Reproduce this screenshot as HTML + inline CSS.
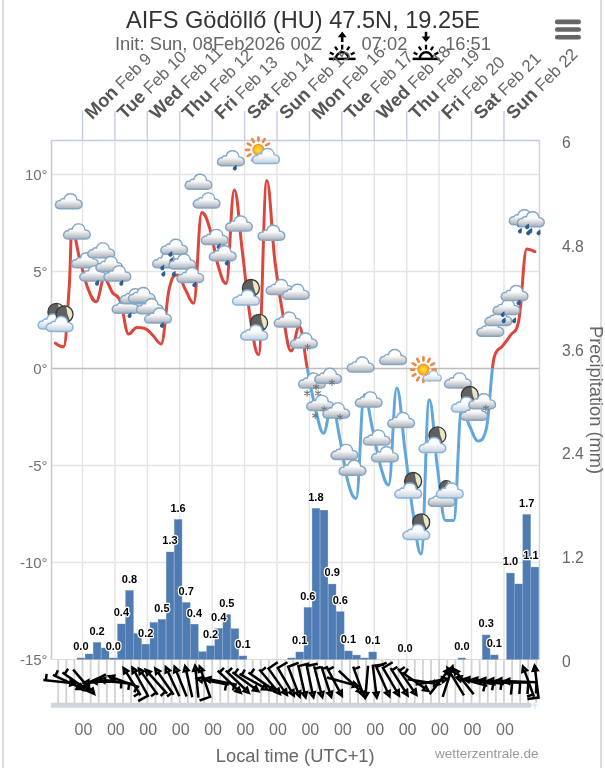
<!DOCTYPE html>
<html lang="en"><head><meta charset="utf-8"><title>AIFS Gödöllő (HU) 47.5N, 19.25E</title>
<style>html,body{margin:0;padding:0;background:#fff;}body{width:605px;height:768px;overflow:hidden;position:relative;font-family:"Liberation Sans", Arial, Helvetica, sans-serif;}#frame{position:absolute;left:2px;top:0;width:600px;height:768px;border-left:2px solid #dcdcdc;border-right:2px solid #dcdcdc;box-sizing:border-box;}svg{position:absolute;left:0;top:0;display:block;}text{font-family:"Liberation Sans", Arial, Helvetica, sans-serif;}</style></head><body>
<div id="frame"></div>
<svg width="605" height="768" viewBox="0 0 605 768">
<defs>
<linearGradient id="cg" x1="0" y1="0" x2="0" y2="1"><stop offset="0" stop-color="#ffffff"/><stop offset="0.45" stop-color="#f9fafb"/><stop offset="1" stop-color="#a9adb4"/></linearGradient>
<linearGradient id="cgb" x1="0" y1="0" x2="0" y2="1"><stop offset="0" stop-color="#ffffff"/><stop offset="0.45" stop-color="#fafcfe"/><stop offset="1" stop-color="#c2cfdc"/></linearGradient>
<radialGradient id="sg" cx="0.5" cy="0.5" r="0.5"><stop offset="0" stop-color="#ffe83a"/><stop offset="0.55" stop-color="#fcc02a"/><stop offset="1" stop-color="#f0901e"/></radialGradient>
<path id="cl" d="M-9.3 7.2 C-12.6 7.2 -13.6 4.2 -13.2 2.6 C-12.8 0.2 -10.6 -1.2 -8.6 -0.8 C-8 -2.6 -6 -3.4 -4.6 -2.6 C-3.8 -6.2 -0.8 -7.9 2.2 -7.8 C5.7 -7.7 8 -4.9 8.2 -1.7 C11.4 -1.8 13.4 0.4 13.4 2.8 C13.4 5.4 11.6 7.2 9.2 7.2 Z" fill="url(#cg)" stroke="#82a6c6" stroke-width="1.45" stroke-linejoin="round"/>
<path id="clb" d="M-9.3 7.2 C-12.6 7.2 -13.6 4.2 -13.2 2.6 C-12.8 0.2 -10.6 -1.2 -8.6 -0.8 C-8 -2.6 -6 -3.4 -4.6 -2.6 C-3.8 -6.2 -0.8 -7.9 2.2 -7.8 C5.7 -7.7 8 -4.9 8.2 -1.7 C11.4 -1.8 13.4 0.4 13.4 2.8 C13.4 5.4 11.6 7.2 9.2 7.2 Z" fill="url(#cgb)" stroke="#88b2d8" stroke-width="1.5" stroke-linejoin="round"/>
<path id="drop" d="M0 -2.9 C1.4 -0.7 2 0.3 2 1.2 A2 2 0 0 1 -2 1.2 C-2 0.3 -1.4 -0.7 0 -2.9 Z" fill="#2d5c94" transform="rotate(25)"/>
<g id="flake" stroke="#767676" stroke-width="1.1" stroke-linecap="round"><path d="M0 -2.9V2.9M-2.5 -1.45L2.5 1.45M2.5 -1.45L-2.5 1.45"/></g>
<g id="moon"><circle r="8.5" fill="#606062"/><path d="M1.6 -8.35 A8.5 8.5 0 0 1 5.4 6.56 Q2.2 0 1.6 -8.35 Z" fill="#ebe6c4"/><circle r="8.5" fill="none" stroke="#39393a" stroke-width="1.3"/></g>
<g id="sun"><path d="M9.20 0.00L12.30 0.00M7.97 4.60L10.65 6.15M4.60 7.97L6.15 10.65M0.00 9.20L0.00 12.30M-4.60 7.97L-6.15 10.65M-7.97 4.60L-10.65 6.15M-9.20 0.00L-12.30 0.00M-7.97 -4.60L-10.65 -6.15M-4.60 -7.97L-6.15 -10.65M-0.00 -9.20L-0.00 -12.30M4.60 -7.97L6.15 -10.65M7.97 -4.60L10.65 -6.15" stroke="#e98a4e" stroke-width="2.7" stroke-linecap="round" fill="none"/><circle r="6.1" fill="url(#sg)"/></g>
<clipPath id="above"><rect x="0" y="0" width="605" height="368.5"/></clipPath>
<clipPath id="below"><rect x="0" y="368.5" width="605" height="400"/></clipPath>
<clipPath id="plot"><rect x="51.5" y="140.5" width="496.0" height="519.0"/></clipPath>
</defs>
<text x="303" y="27.5" text-anchor="middle" font-size="23.6" fill="#333">AIFS Gödöllő (HU) 47.5N, 19.25E</text>
<text x="115" y="49.5" font-size="18.35" fill="#666">Init: Sun, 08Feb2026 00Z</text>
<text x="361.6" y="49.5" font-size="18.3" fill="#666">07:02</text>
<text x="445.2" y="49.5" font-size="18.3" fill="#666">16:51</text>
<g transform="translate(342.2,0)" stroke="#000" fill="none" stroke-linecap="butt"><path d="M-13.4 58.9H13.4" stroke-width="2.5"/><path d="M-6.2 58.5A6.2 6.2 0 0 1 6.2 58.5" stroke-width="2.4"/><path d="M-12.4 52.4L-8.6 54.6M12.4 52.4L8.6 54.6M-7.2 46.6L-4.8 50.2M7.2 46.6L4.8 50.2M0 44.8V49.4" stroke-width="2.3"/><path d="M0 42V36" stroke-width="2.6"/><path d="M-4.4 37.2L0 31.6L4.4 37.2Z" fill="#000" stroke="none"/></g>
<g transform="translate(426.0,0)" stroke="#000" fill="none" stroke-linecap="butt"><path d="M-13.4 58.9H13.4" stroke-width="2.5"/><path d="M-6.2 58.5A6.2 6.2 0 0 1 6.2 58.5" stroke-width="2.4"/><path d="M-12.4 52.4L-8.6 54.6M12.4 52.4L8.6 54.6M-7.2 46.6L-4.8 50.2M7.2 46.6L4.8 50.2M0 44.8V49.4" stroke-width="2.3"/><path d="M0 31.8V37.4" stroke-width="2.6"/><path d="M-4.4 36.4L0 42L4.4 36.4Z" fill="#000" stroke="none"/></g>
<g stroke="#666" stroke-width="4.6" stroke-linecap="round"><path d="M557.2 21.9H578.7M557.2 29.55H578.7M557.2 37.2H578.7"/></g>
<text transform="translate(92.3,120.2) rotate(-45)" font-size="16.8" fill="#666"><tspan font-weight="bold" font-size="18.4" fill="#555">Mon</tspan> Feb 9</text>
<text transform="translate(124.7,120.2) rotate(-45)" font-size="16.8" fill="#666"><tspan font-weight="bold" font-size="18.4" fill="#555">Tue</tspan> Feb 10</text>
<text transform="translate(157.1,120.2) rotate(-45)" font-size="16.8" fill="#666"><tspan font-weight="bold" font-size="18.4" fill="#555">Wed</tspan> Feb 11</text>
<text transform="translate(189.6,120.2) rotate(-45)" font-size="16.8" fill="#666"><tspan font-weight="bold" font-size="18.4" fill="#555">Thu</tspan> Feb 12</text>
<text transform="translate(222.0,120.2) rotate(-45)" font-size="16.8" fill="#666"><tspan font-weight="bold" font-size="18.4" fill="#555">Fri</tspan> Feb 13</text>
<text transform="translate(254.4,120.2) rotate(-45)" font-size="16.8" fill="#666"><tspan font-weight="bold" font-size="18.4" fill="#555">Sat</tspan> Feb 14</text>
<text transform="translate(286.8,120.2) rotate(-45)" font-size="16.8" fill="#666"><tspan font-weight="bold" font-size="18.4" fill="#555">Sun</tspan> Feb 15</text>
<text transform="translate(319.2,120.2) rotate(-45)" font-size="16.8" fill="#666"><tspan font-weight="bold" font-size="18.4" fill="#555">Mon</tspan> Feb 16</text>
<text transform="translate(351.7,120.2) rotate(-45)" font-size="16.8" fill="#666"><tspan font-weight="bold" font-size="18.4" fill="#555">Tue</tspan> Feb 17</text>
<text transform="translate(384.1,120.2) rotate(-45)" font-size="16.8" fill="#666"><tspan font-weight="bold" font-size="18.4" fill="#555">Wed</tspan> Feb 18</text>
<text transform="translate(416.5,120.2) rotate(-45)" font-size="16.8" fill="#666"><tspan font-weight="bold" font-size="18.4" fill="#555">Thu</tspan> Feb 19</text>
<text transform="translate(448.9,120.2) rotate(-45)" font-size="16.8" fill="#666"><tspan font-weight="bold" font-size="18.4" fill="#555">Fri</tspan> Feb 20</text>
<text transform="translate(481.3,120.2) rotate(-45)" font-size="16.8" fill="#666"><tspan font-weight="bold" font-size="18.4" fill="#555">Sat</tspan> Feb 21</text>
<text transform="translate(513.8,120.2) rotate(-45)" font-size="16.8" fill="#666"><tspan font-weight="bold" font-size="18.4" fill="#555">Sun</tspan> Feb 22</text>
<path d="M82.50 140.5V659.5" stroke="#e4e4e4" stroke-width="1.4"/>
<path d="M82.50 111V140.5" stroke="#c6cbe6" stroke-width="1.4"/>
<path d="M114.92 140.5V659.5" stroke="#e4e4e4" stroke-width="1.4"/>
<path d="M114.92 111V140.5" stroke="#c6cbe6" stroke-width="1.4"/>
<path d="M147.34 140.5V659.5" stroke="#e4e4e4" stroke-width="1.4"/>
<path d="M147.34 111V140.5" stroke="#c6cbe6" stroke-width="1.4"/>
<path d="M179.76 140.5V659.5" stroke="#e4e4e4" stroke-width="1.4"/>
<path d="M179.76 111V140.5" stroke="#c6cbe6" stroke-width="1.4"/>
<path d="M212.18 140.5V659.5" stroke="#e4e4e4" stroke-width="1.4"/>
<path d="M212.18 111V140.5" stroke="#c6cbe6" stroke-width="1.4"/>
<path d="M244.60 140.5V659.5" stroke="#e4e4e4" stroke-width="1.4"/>
<path d="M244.60 111V140.5" stroke="#c6cbe6" stroke-width="1.4"/>
<path d="M277.02 140.5V659.5" stroke="#e4e4e4" stroke-width="1.4"/>
<path d="M277.02 111V140.5" stroke="#c6cbe6" stroke-width="1.4"/>
<path d="M309.44 140.5V659.5" stroke="#e4e4e4" stroke-width="1.4"/>
<path d="M309.44 111V140.5" stroke="#c6cbe6" stroke-width="1.4"/>
<path d="M341.86 140.5V659.5" stroke="#e4e4e4" stroke-width="1.4"/>
<path d="M341.86 111V140.5" stroke="#c6cbe6" stroke-width="1.4"/>
<path d="M374.28 140.5V659.5" stroke="#e4e4e4" stroke-width="1.4"/>
<path d="M374.28 111V140.5" stroke="#c6cbe6" stroke-width="1.4"/>
<path d="M406.70 140.5V659.5" stroke="#e4e4e4" stroke-width="1.4"/>
<path d="M406.70 111V140.5" stroke="#c6cbe6" stroke-width="1.4"/>
<path d="M439.12 140.5V659.5" stroke="#e4e4e4" stroke-width="1.4"/>
<path d="M439.12 111V140.5" stroke="#c6cbe6" stroke-width="1.4"/>
<path d="M471.54 140.5V659.5" stroke="#e4e4e4" stroke-width="1.4"/>
<path d="M471.54 111V140.5" stroke="#c6cbe6" stroke-width="1.4"/>
<path d="M503.96 140.5V659.5" stroke="#e4e4e4" stroke-width="1.4"/>
<path d="M503.96 111V140.5" stroke="#c6cbe6" stroke-width="1.4"/>
<path d="M51.5 174.50H539.5" stroke="#e4e4e4" stroke-width="1.4"/>
<path d="M51.5 271.50H539.5" stroke="#e4e4e4" stroke-width="1.4"/>
<path d="M51.5 465.50H539.5" stroke="#e4e4e4" stroke-width="1.4"/>
<path d="M51.5 562.50H539.5" stroke="#e4e4e4" stroke-width="1.4"/>
<path d="M51.5 368.50H539.5" stroke="#bdbdbd" stroke-width="1.4"/>
<path d="M51.5 140.5H539.5" stroke="#c6cbe6" stroke-width="1.4"/>
<path d="M51.5 140.0V659.5" stroke="#cccccc" stroke-width="1.6"/>
<path d="M539.5 140.0V659.5" stroke="#d4d4d4" stroke-width="1.4"/>
<path d="M51.5 659.5H539.5" stroke="#d8d8d8" stroke-width="1"/>
<text x="47.6" y="180.3" text-anchor="end" font-size="15" fill="#707070">10°</text>
<text x="47.6" y="277.3" text-anchor="end" font-size="15" fill="#707070">5°</text>
<text x="47.6" y="374.3" text-anchor="end" font-size="15" fill="#707070">0°</text>
<text x="47.6" y="471.3" text-anchor="end" font-size="15" fill="#707070">-5°</text>
<text x="47.6" y="568.3" text-anchor="end" font-size="15" fill="#707070">-10°</text>
<text x="47.6" y="665.3" text-anchor="end" font-size="15" fill="#707070">-15°</text>
<text x="562" y="667.0" font-size="15.7" fill="#666">0</text>
<text x="562" y="563.2" font-size="15.7" fill="#666">1.2</text>
<text x="562" y="459.4" font-size="15.7" fill="#666">2.4</text>
<text x="562" y="355.6" font-size="15.7" fill="#666">3.6</text>
<text x="562" y="251.8" font-size="15.7" fill="#666">4.8</text>
<text x="562" y="148.0" font-size="15.7" fill="#666">6</text>
<text transform="translate(589.5,400) rotate(90)" text-anchor="middle" font-size="18.25" fill="#666">Precipitation (mm)</text>
<g fill="#4f7bb3" stroke="#6288bd" stroke-width="0.4"><rect x="77.07" y="658.00" width="7.61" height="1.20"/><rect x="85.17" y="654.00" width="7.61" height="5.20"/><rect x="93.28" y="642.50" width="7.61" height="16.70"/><rect x="101.39" y="648.00" width="7.61" height="11.20"/><rect x="109.49" y="658.00" width="7.61" height="1.20"/><rect x="117.60" y="624.00" width="7.61" height="35.20"/><rect x="125.70" y="590.50" width="7.61" height="68.70"/><rect x="133.81" y="633.50" width="7.61" height="25.70"/><rect x="141.92" y="644.20" width="7.61" height="15.00"/><rect x="150.02" y="622.50" width="7.61" height="36.70"/><rect x="158.13" y="619.50" width="7.61" height="39.70"/><rect x="166.23" y="552.00" width="7.61" height="107.20"/><rect x="174.34" y="519.50" width="7.61" height="139.70"/><rect x="182.45" y="602.50" width="7.61" height="56.70"/><rect x="190.55" y="624.20" width="7.61" height="35.00"/><rect x="198.66" y="651.80" width="7.61" height="7.40"/><rect x="206.76" y="645.90" width="7.61" height="13.30"/><rect x="214.87" y="628.50" width="7.61" height="30.70"/><rect x="222.98" y="614.60" width="7.61" height="44.60"/><rect x="231.08" y="628.80" width="7.61" height="30.40"/><rect x="239.19" y="656.00" width="7.61" height="3.20"/><rect x="287.82" y="658.00" width="7.61" height="1.20"/><rect x="295.93" y="652.00" width="7.61" height="7.20"/><rect x="304.04" y="607.50" width="7.61" height="51.70"/><rect x="312.14" y="508.50" width="7.61" height="150.70"/><rect x="320.25" y="510.20" width="7.61" height="149.00"/><rect x="328.35" y="584.10" width="7.61" height="75.10"/><rect x="336.46" y="611.80" width="7.61" height="47.40"/><rect x="344.57" y="651.00" width="7.61" height="8.20"/><rect x="352.67" y="655.10" width="7.61" height="4.10"/><rect x="360.78" y="658.00" width="7.61" height="1.20"/><rect x="368.88" y="652.00" width="7.61" height="7.20"/><rect x="458.05" y="658.00" width="7.61" height="1.20"/><rect x="482.37" y="635.00" width="7.61" height="24.20"/><rect x="490.47" y="655.00" width="7.61" height="4.20"/><rect x="506.69" y="573.10" width="7.61" height="86.10"/><rect x="514.79" y="584.00" width="7.61" height="75.20"/><rect x="522.90" y="514.50" width="7.61" height="144.70"/><rect x="531.00" y="567.10" width="7.61" height="92.10"/></g>
<path d="M 55.50 343.20 C 55.50 343.20 60.38 346.80 63.62 346.80 C 65.94 346.80 67.09 317.35 69.40 284.00 C 70.34 270.43 70.81 229.50 71.75 229.50 C 75.00 229.50 76.62 247.88 79.88 259.70 C 83.12 271.52 84.75 280.20 88.00 288.60 C 91.25 297.00 92.88 301.70 96.12 301.70 C 99.38 301.70 101.00 278.70 104.25 278.70 C 107.50 278.70 109.12 287.70 112.38 292.30 C 115.62 296.90 117.25 293.36 120.50 301.70 C 123.75 310.04 125.38 334.00 128.62 334.00 C 131.88 334.00 133.50 327.50 136.75 327.50 C 140.00 327.50 141.62 327.50 144.88 328.50 C 148.12 329.50 149.75 332.42 153.00 335.50 C 156.25 338.58 157.88 343.90 161.12 343.90 C 164.38 343.90 166.00 302.20 169.25 288.60 C 172.50 275.00 174.12 275.00 177.38 275.00 C 180.62 275.00 182.25 284.14 185.50 289.80 C 188.75 295.46 190.38 303.30 193.62 303.30 C 196.88 303.30 198.50 212.60 201.75 212.60 C 205.00 212.60 206.62 218.18 209.88 228.70 C 213.12 239.22 214.75 254.24 218.00 265.20 C 221.25 276.16 222.88 283.50 226.12 283.50 C 229.38 283.50 231.00 189.90 234.25 189.90 C 237.50 189.90 239.12 225.84 242.38 251.80 C 245.62 277.76 247.25 299.16 250.50 319.70 C 253.75 340.24 255.38 354.50 258.62 354.50 C 261.88 354.50 263.50 180.60 266.75 180.60 C 270.00 180.60 271.62 234.06 274.88 261.00 C 278.12 287.94 279.75 297.32 283.00 315.30 C 286.25 333.28 287.88 350.90 291.12 350.90 C 294.38 350.90 296.00 326.50 299.25 326.50 C 302.50 326.50 304.12 352.32 307.38 368.80 C 310.62 385.28 312.25 396.02 315.50 408.90 C 318.75 421.78 320.38 433.20 323.62 433.20 C 326.88 433.20 328.50 404.00 331.75 404.00 C 335.00 404.00 336.62 423.08 339.88 438.70 C 343.12 454.32 344.75 470.16 348.00 482.10 C 351.25 494.04 352.88 498.40 356.12 498.40 C 359.38 498.40 361.00 394.80 364.25 394.80 C 367.50 394.80 369.12 414.08 372.38 428.30 C 375.62 442.52 377.25 454.56 380.50 465.90 C 383.75 477.24 385.38 485.00 388.62 485.00 C 391.88 485.00 393.50 387.90 396.75 387.90 C 400.00 387.90 401.62 424.04 404.88 449.00 C 408.12 473.96 409.75 491.70 413.00 512.70 C 416.25 533.70 417.88 554.00 421.12 554.00 C 424.38 554.00 426.00 399.70 429.25 399.70 C 432.50 399.70 434.12 442.94 437.38 467.10 C 440.62 491.26 442.25 520.50 445.50 520.50 C 448.75 520.50 450.38 520.50 453.62 520.50 C 456.88 520.50 458.50 408.70 461.75 408.70 C 465.00 408.70 466.62 420.24 469.88 426.70 C 473.12 433.16 474.75 441.00 478.00 441.00 C 481.25 441.00 482.88 441.00 486.12 429.60 C 489.38 418.20 491.00 367.80 494.25 357.00 C 497.50 346.20 499.12 350.54 502.38 346.20 C 505.62 341.86 507.25 340.28 510.50 335.30 C 513.75 330.32 515.38 335.30 518.62 321.30 C 521.88 307.30 523.50 248.90 526.75 248.90 C 530.00 248.90 534.88 251.60 534.88 251.60" fill="none" stroke="#dc463d" stroke-width="3" stroke-linecap="round" stroke-linejoin="round" clip-path="url(#above)"/>
<path d="M 55.50 343.20 C 55.50 343.20 60.38 346.80 63.62 346.80 C 65.94 346.80 67.09 317.35 69.40 284.00 C 70.34 270.43 70.81 229.50 71.75 229.50 C 75.00 229.50 76.62 247.88 79.88 259.70 C 83.12 271.52 84.75 280.20 88.00 288.60 C 91.25 297.00 92.88 301.70 96.12 301.70 C 99.38 301.70 101.00 278.70 104.25 278.70 C 107.50 278.70 109.12 287.70 112.38 292.30 C 115.62 296.90 117.25 293.36 120.50 301.70 C 123.75 310.04 125.38 334.00 128.62 334.00 C 131.88 334.00 133.50 327.50 136.75 327.50 C 140.00 327.50 141.62 327.50 144.88 328.50 C 148.12 329.50 149.75 332.42 153.00 335.50 C 156.25 338.58 157.88 343.90 161.12 343.90 C 164.38 343.90 166.00 302.20 169.25 288.60 C 172.50 275.00 174.12 275.00 177.38 275.00 C 180.62 275.00 182.25 284.14 185.50 289.80 C 188.75 295.46 190.38 303.30 193.62 303.30 C 196.88 303.30 198.50 212.60 201.75 212.60 C 205.00 212.60 206.62 218.18 209.88 228.70 C 213.12 239.22 214.75 254.24 218.00 265.20 C 221.25 276.16 222.88 283.50 226.12 283.50 C 229.38 283.50 231.00 189.90 234.25 189.90 C 237.50 189.90 239.12 225.84 242.38 251.80 C 245.62 277.76 247.25 299.16 250.50 319.70 C 253.75 340.24 255.38 354.50 258.62 354.50 C 261.88 354.50 263.50 180.60 266.75 180.60 C 270.00 180.60 271.62 234.06 274.88 261.00 C 278.12 287.94 279.75 297.32 283.00 315.30 C 286.25 333.28 287.88 350.90 291.12 350.90 C 294.38 350.90 296.00 326.50 299.25 326.50 C 302.50 326.50 304.12 352.32 307.38 368.80 C 310.62 385.28 312.25 396.02 315.50 408.90 C 318.75 421.78 320.38 433.20 323.62 433.20 C 326.88 433.20 328.50 404.00 331.75 404.00 C 335.00 404.00 336.62 423.08 339.88 438.70 C 343.12 454.32 344.75 470.16 348.00 482.10 C 351.25 494.04 352.88 498.40 356.12 498.40 C 359.38 498.40 361.00 394.80 364.25 394.80 C 367.50 394.80 369.12 414.08 372.38 428.30 C 375.62 442.52 377.25 454.56 380.50 465.90 C 383.75 477.24 385.38 485.00 388.62 485.00 C 391.88 485.00 393.50 387.90 396.75 387.90 C 400.00 387.90 401.62 424.04 404.88 449.00 C 408.12 473.96 409.75 491.70 413.00 512.70 C 416.25 533.70 417.88 554.00 421.12 554.00 C 424.38 554.00 426.00 399.70 429.25 399.70 C 432.50 399.70 434.12 442.94 437.38 467.10 C 440.62 491.26 442.25 520.50 445.50 520.50 C 448.75 520.50 450.38 520.50 453.62 520.50 C 456.88 520.50 458.50 408.70 461.75 408.70 C 465.00 408.70 466.62 420.24 469.88 426.70 C 473.12 433.16 474.75 441.00 478.00 441.00 C 481.25 441.00 482.88 441.00 486.12 429.60 C 489.38 418.20 491.00 367.80 494.25 357.00 C 497.50 346.20 499.12 350.54 502.38 346.20 C 505.62 341.86 507.25 340.28 510.50 335.30 C 513.75 330.32 515.38 335.30 518.62 321.30 C 521.88 307.30 523.50 248.90 526.75 248.90 C 530.00 248.90 534.88 251.60 534.88 251.60" fill="none" stroke="#62a7dc" stroke-width="3" stroke-linecap="round" stroke-linejoin="round" clip-path="url(#below)"/>
<g transform="translate(52.5,315.6)"><use href="#moon" x="3.9" y="-3.7"/><use href="#clb" x="-1.1" y="6.2"/></g>
<g transform="translate(60.6,318.0)"><use href="#moon" x="3.9" y="-3.7"/><use href="#clb" x="-1.1" y="6.2"/></g>
<g transform="translate(68.7,201.5)"><use href="#cl"/></g>
<g transform="translate(76.8,231.7)"><use href="#cl"/></g>
<g transform="translate(84.9,260.6)"><use href="#cl"/></g>
<g transform="translate(93.0,273.7)"><use href="#cl"/><use href="#drop" x="4.5" y="8.8"/></g>
<g transform="translate(101.1,250.7)"><use href="#cl"/></g>
<g transform="translate(109.2,264.3)"><use href="#cl"/></g>
<g transform="translate(117.3,273.7)"><use href="#cl"/><use href="#drop" x="4.5" y="8.8"/></g>
<g transform="translate(125.5,306.0)"><use href="#cl"/><use href="#drop" x="4.5" y="8.8"/></g>
<g transform="translate(133.6,296.5)"><use href="#cl"/></g>
<g transform="translate(141.7,295.3)"><use href="#cl"/></g>
<g transform="translate(149.8,306.5)"><use href="#cl"/></g>
<g transform="translate(157.9,315.9)"><use href="#cl"/><use href="#drop" x="4.5" y="8.8"/></g>
<g transform="translate(166.0,260.6)"><use href="#cl"/><use href="#drop" x="-3.2" y="6.6"/><use href="#drop" x="-2.2" y="12.7"/><use href="#drop" x="8.2" y="12.7"/></g>
<g transform="translate(174.1,247.0)"><use href="#cl"/><use href="#drop" x="-3.2" y="6.6"/><use href="#drop" x="-2.2" y="12.7"/><use href="#drop" x="8.2" y="12.7"/></g>
<g transform="translate(182.2,261.8)"><use href="#cl"/></g>
<g transform="translate(190.3,275.3)"><use href="#cl"/><use href="#drop" x="4.5" y="8.8"/></g>
<g transform="translate(198.4,182.1)"><use href="#cl"/></g>
<g transform="translate(206.5,200.7)"><use href="#cl"/></g>
<g transform="translate(214.6,237.2)"><use href="#cl"/><use href="#drop" x="4.5" y="8.8"/></g>
<g transform="translate(222.7,253.5)"><use href="#cl"/><use href="#drop" x="4.5" y="8.8"/></g>
<g transform="translate(230.8,158.6)"><use href="#cl"/><use href="#drop" x="4.5" y="8.8"/></g>
<g transform="translate(238.9,223.8)"><use href="#cl"/></g>
<g transform="translate(247.0,291.7)"><use href="#moon" x="3.9" y="-3.7"/><use href="#clb" x="-1.1" y="6.2"/></g>
<g transform="translate(255.2,326.5)"><use href="#moon" x="3.9" y="-3.7"/><use href="#clb" x="-1.1" y="6.2"/></g>
<g transform="translate(263.3,151.6)"><use href="#sun" x="-4.9" y="-1.8"/><use href="#clb" x="2.6" y="4.8"/></g>
<g transform="translate(271.4,233.0)"><use href="#cl"/></g>
<g transform="translate(279.5,287.3)"><use href="#cl"/></g>
<g transform="translate(287.6,319.9)"><use href="#cl"/></g>
<g transform="translate(295.7,292.1)"><use href="#cl"/></g>
<g transform="translate(303.8,340.8)"><use href="#cl"/><use href="#flake" x="3.8" y="6.5"/></g>
<g transform="translate(311.9,380.9)"><use href="#cl"/><use href="#flake" x="-4.8" y="12.4"/><use href="#flake" x="6.2" y="12.4"/><use href="#flake" x="4.2" y="6"/></g>
<g transform="translate(320.0,403.2)"><use href="#cl"/><use href="#flake" x="-4.8" y="12.4"/><use href="#flake" x="6.2" y="12.4"/><use href="#flake" x="4.2" y="6"/></g>
<g transform="translate(328.1,376.0)"><use href="#cl"/><use href="#flake" x="3.8" y="6.5"/></g>
<g transform="translate(336.2,410.7)"><use href="#cl"/><use href="#flake" x="3.8" y="6.5"/></g>
<g transform="translate(344.3,452.2)"><use href="#cl"/></g>
<g transform="translate(352.4,468.0)"><use href="#cl"/></g>
<g transform="translate(360.5,364.8)"><use href="#cl"/></g>
<g transform="translate(368.6,399.7)"><use href="#cl"/></g>
<g transform="translate(376.7,437.9)"><use href="#cl"/></g>
<g transform="translate(384.8,454.6)"><use href="#cl"/></g>
<g transform="translate(393.0,357.3)"><use href="#cl"/></g>
<g transform="translate(401.1,420.3)"><use href="#cl"/></g>
<g transform="translate(409.2,484.7)"><use href="#moon" x="3.9" y="-3.7"/><use href="#clb" x="-1.1" y="6.2"/></g>
<g transform="translate(417.3,526.0)"><use href="#moon" x="3.9" y="-3.7"/><use href="#clb" x="-1.1" y="6.2"/></g>
<g transform="translate(425.4,370.2)"><use href="#sun" x="-2" y="-0.6"/><g transform="translate(6.8,5.8) scale(0.68)"><use href="#clb"/></g></g>
<g transform="translate(433.5,439.1)"><use href="#moon" x="3.9" y="-3.7"/><use href="#clb" x="-1.1" y="6.2"/></g>
<g transform="translate(441.6,499.0)"><use href="#cl"/></g>
<g transform="translate(449.7,490.4)"><g transform="translate(-3.5,-3.2) scale(0.78)"><use href="#moon"/></g><use href="#clb" x="0" y="0.5"/></g>
<g transform="translate(457.8,380.7)"><use href="#cl"/></g>
<g transform="translate(465.9,398.7)"><use href="#moon" x="3.9" y="-3.7"/><use href="#clb" x="-1.1" y="6.2"/></g>
<g transform="translate(474.0,413.0)"><use href="#cl"/></g>
<g transform="translate(482.1,401.6)"><use href="#cl"/><use href="#flake" x="3.8" y="6.5"/></g>
<g transform="translate(490.2,329.0)"><use href="#cl"/></g>
<g transform="translate(498.3,318.2)"><use href="#cl"/></g>
<g transform="translate(506.4,307.3)"><use href="#cl"/><use href="#drop" x="-3.2" y="6.6"/><use href="#drop" x="-2.2" y="12.7"/><use href="#drop" x="8.2" y="12.7"/></g>
<g transform="translate(514.5,293.3)"><use href="#cl"/><use href="#drop" x="4.5" y="8.8"/></g>
<g transform="translate(522.6,217.6)"><use href="#cl"/><use href="#drop" x="-3.2" y="6.6"/><use href="#drop" x="-2.2" y="12.7"/><use href="#drop" x="8.2" y="12.7"/></g>
<g transform="translate(530.8,219.5)"><use href="#cl"/><use href="#drop" x="-3.2" y="6.6"/><use href="#drop" x="-2.2" y="12.7"/><use href="#drop" x="8.2" y="12.7"/></g>
<g font-size="11" font-weight="bold" text-anchor="middle" fill="#000" stroke="#fff" stroke-width="2.4" stroke-linejoin="round" paint-order="stroke"><text x="80.9" y="650.3">0.0</text><text x="97.1" y="634.8">0.2</text><text x="113.3" y="650.3">0.0</text><text x="121.4" y="616.3">0.4</text><text x="129.5" y="582.8">0.8</text><text x="145.7" y="636.5">0.2</text><text x="161.9" y="611.8">0.5</text><text x="170.0" y="544.3">1.3</text><text x="178.1" y="511.8">1.6</text><text x="186.2" y="594.8">0.7</text><text x="194.4" y="616.5">0.4</text><text x="210.6" y="638.2">0.2</text><text x="218.7" y="620.8">0.4</text><text x="226.8" y="606.9">0.5</text><text x="243.0" y="648.3">0.1</text><text x="299.7" y="644.3">0.1</text><text x="307.8" y="599.8">0.6</text><text x="315.9" y="500.8">1.8</text><text x="332.2" y="576.4">0.9</text><text x="340.3" y="604.1">0.6</text><text x="348.4" y="643.3">0.1</text><text x="372.7" y="644.3">0.1</text><text x="405.1" y="651.5">0.0</text><text x="461.9" y="650.3">0.0</text><text x="486.2" y="627.3">0.3</text><text x="494.3" y="647.3">0.1</text><text x="510.5" y="565.4">1.0</text><text x="526.7" y="506.8">1.7</text><text x="531.0" y="559.4">1.1</text></g>
<path d="M58.19 660.0V703M66.29 660.0V703M74.40 660.0V703M82.50 660.0V703M90.61 660.0V703M98.71 660.0V703M106.82 660.0V703M114.92 660.0V703M123.03 660.0V703M131.13 660.0V703M139.24 660.0V703M147.34 660.0V703M155.44 660.0V703M163.55 660.0V703M171.65 660.0V703M179.76 660.0V703M187.86 660.0V703M195.97 660.0V703M204.07 660.0V703M212.18 660.0V703M220.28 660.0V703M228.39 660.0V703M236.49 660.0V703M244.60 660.0V703M252.70 660.0V703M260.81 660.0V703M268.91 660.0V703M277.02 660.0V703M285.12 660.0V703M293.23 660.0V703M301.33 660.0V703M309.44 660.0V703M317.55 660.0V703M325.65 660.0V703M333.76 660.0V703M341.86 660.0V703M349.97 660.0V703M358.07 660.0V703M366.18 660.0V703M374.28 660.0V703M382.39 660.0V703M390.49 660.0V703M398.60 660.0V703M406.70 660.0V703M414.81 660.0V703M422.91 660.0V703M431.02 660.0V703M439.12 660.0V703M447.23 660.0V703M455.33 660.0V703M463.44 660.0V703M471.54 660.0V703M479.65 660.0V703M487.75 660.0V703M495.86 660.0V703M503.96 660.0V703M512.07 660.0V703M520.17 660.0V703M528.28 660.0V703M536.38 660.0V703" stroke="#d2d2d2" stroke-width="1.8" fill="none"/>
<rect x="51" y="702.8" width="480" height="4.9" fill="#cfd3dc"/><path d="M531 705.2H538.5M535 701V709" stroke="#d5dbe8" stroke-width="1"/>
<g stroke="#000" stroke-width="2.5" fill="none" stroke-linejoin="miter"><path transform="translate(59.3,681.7) rotate(-84)" d="M0 11.20L-2.40 11.20L0 16.00L2.40 11.20L0 11.20L0 -16.00M0 -13.44L6.40 -13.44"/><path transform="translate(67.4,681.7) rotate(-65)" d="M0 11.20L-2.40 11.20L0 16.00L2.40 11.20L0 11.20L0 -16.00M0 -13.44L6.40 -13.44"/><path transform="translate(75.5,681.7) rotate(-55)" d="M0 11.20L-2.40 11.20L0 16.00L2.40 11.20L0 11.20L0 -16.00M0 -13.44L6.40 -13.44"/><path transform="translate(83.6,681.7) rotate(-41)" d="M0 11.20L-2.40 11.20L0 16.00L2.40 11.20L0 11.20L0 -16.00"/><path transform="translate(91.7,681.7) rotate(63)" d="M0 11.20L-2.40 11.20L0 16.00L2.40 11.20L0 11.20L0 -16.00"/><path transform="translate(99.8,681.7) rotate(85)" d="M0 11.20L-2.40 11.20L0 16.00L2.40 11.20L0 11.20L0 -16.00"/><path transform="translate(107.8,681.7) rotate(92)" d="M0 11.20L-2.40 11.20L0 16.00L2.40 11.20L0 11.20L0 -16.00M0 -13.44L6.40 -13.44"/><path transform="translate(115.9,681.7) rotate(98)" d="M0 11.20L-2.40 11.20L0 16.00L2.40 11.20L0 11.20L0 -16.00M0 -13.44L6.40 -13.44"/><path transform="translate(124.0,681.7) rotate(110)" d="M0 11.20L-2.40 11.20L0 16.00L2.40 11.20L0 11.20L0 -16.00M0 -13.44L6.40 -13.44"/><path transform="translate(132.1,681.7) rotate(148)" d="M0 11.20L-2.40 11.20L0 16.00L2.40 11.20L0 11.20L0 -16.00M0 -13.44L6.40 -13.44"/><path transform="translate(140.2,681.7) rotate(151)" d="M0 11.20L-2.40 11.20L0 16.00L2.40 11.20L0 11.20L0 -16.00L11.20 -16.00"/><path transform="translate(148.3,681.7) rotate(144)" d="M0 11.20L-2.40 11.20L0 16.00L2.40 11.20L0 11.20L0 -16.00M0 -13.44L6.40 -13.44"/><path transform="translate(156.4,681.7) rotate(138)" d="M0 11.20L-2.40 11.20L0 16.00L2.40 11.20L0 11.20L0 -16.00M0 -13.44L6.40 -13.44"/><path transform="translate(164.5,681.7) rotate(145)" d="M0 11.20L-2.40 11.20L0 16.00L2.40 11.20L0 11.20L0 -16.00M0 -13.44L6.40 -13.44"/><path transform="translate(172.6,681.7) rotate(155)" d="M0 11.20L-2.40 11.20L0 16.00L2.40 11.20L0 11.20L0 -16.00"/><path transform="translate(180.6,681.7) rotate(158)" d="M0 11.20L-2.40 11.20L0 16.00L2.40 11.20L0 11.20L0 -16.00"/><path transform="translate(188.7,681.7) rotate(167)" d="M0 11.20L-2.40 11.20L0 16.00L2.40 11.20L0 11.20L0 -16.00"/><path transform="translate(196.8,681.7) rotate(174)" d="M0 11.20L-2.40 11.20L0 16.00L2.40 11.20L0 11.20L0 -16.00"/><path transform="translate(204.9,681.7) rotate(161)" d="M0 11.20L-2.40 11.20L0 16.00L2.40 11.20L0 11.20L0 -16.00L11.20 -16.00"/><path transform="translate(213.0,681.7) rotate(101)" d="M0 11.20L-2.40 11.20L0 16.00L2.40 11.20L0 11.20L0 -16.00M0 -13.44L6.40 -13.44"/><path transform="translate(221.1,681.7) rotate(101)" d="M0 11.20L-2.40 11.20L0 16.00L2.40 11.20L0 11.20L0 -16.00M0 -13.44L6.40 -13.44"/><path transform="translate(229.2,681.7) rotate(-46)" d="M0 11.20L-2.40 11.20L0 16.00L2.40 11.20L0 11.20L0 -16.00M0 -13.44L6.40 -13.44"/><path transform="translate(237.3,681.7) rotate(-46)" d="M0 11.20L-2.40 11.20L0 16.00L2.40 11.20L0 11.20L0 -16.00M0 -13.44L6.40 -13.44"/><path transform="translate(245.4,681.7) rotate(-54)" d="M0 11.20L-2.40 11.20L0 16.00L2.40 11.20L0 11.20L0 -16.00M0 -13.44L6.40 -13.44"/><path transform="translate(253.5,681.7) rotate(-61)" d="M0 11.20L-2.40 11.20L0 16.00L2.40 11.20L0 11.20L0 -16.00M0 -13.44L6.40 -13.44"/><path transform="translate(261.6,681.7) rotate(-55)" d="M0 11.20L-2.40 11.20L0 16.00L2.40 11.20L0 11.20L0 -16.00M0 -13.44L6.40 -13.44"/><path transform="translate(269.6,681.7) rotate(-40)" d="M0 11.20L-2.40 11.20L0 16.00L2.40 11.20L0 11.20L0 -16.00M0 -13.44L6.40 -13.44"/><path transform="translate(277.7,681.7) rotate(-35)" d="M0 11.20L-2.40 11.20L0 16.00L2.40 11.20L0 11.20L0 -16.00L11.20 -16.00"/><path transform="translate(285.8,681.7) rotate(-30)" d="M0 11.20L-2.40 11.20L0 16.00L2.40 11.20L0 11.20L0 -16.00L11.20 -16.00"/><path transform="translate(293.9,681.7) rotate(-21)" d="M0 11.20L-2.40 11.20L0 16.00L2.40 11.20L0 11.20L0 -16.00L11.20 -16.00"/><path transform="translate(302.0,681.7) rotate(-13)" d="M0 11.20L-2.40 11.20L0 16.00L2.40 11.20L0 11.20L0 -16.00L11.20 -16.00"/><path transform="translate(310.1,681.7) rotate(-12)" d="M0 11.20L-2.40 11.20L0 16.00L2.40 11.20L0 11.20L0 -16.00L11.20 -16.00"/><path transform="translate(318.2,681.7) rotate(-15)" d="M0 11.20L-2.40 11.20L0 16.00L2.40 11.20L0 11.20L0 -16.00M0 -13.44L6.40 -13.44"/><path transform="translate(326.3,681.7) rotate(-18)" d="M0 11.20L-2.40 11.20L0 16.00L2.40 11.20L0 11.20L0 -16.00M0 -13.44L6.40 -13.44"/><path transform="translate(334.4,681.7) rotate(-28)" d="M0 11.20L-2.40 11.20L0 16.00L2.40 11.20L0 11.20L0 -16.00M0 -13.44L6.40 -13.44"/><path transform="translate(342.4,681.7) rotate(-75)" d="M0 11.20L-2.40 11.20L0 16.00L2.40 11.20L0 11.20L0 -16.00"/><path transform="translate(350.5,681.7) rotate(-47)" d="M0 11.20L-2.40 11.20L0 16.00L2.40 11.20L0 11.20L0 -16.00"/><path transform="translate(358.6,681.7) rotate(-20)" d="M0 11.20L-2.40 11.20L0 16.00L2.40 11.20L0 11.20L0 -16.00M0 -13.44L6.40 -13.44"/><path transform="translate(366.7,681.7) rotate(5)" d="M0 11.20L-2.40 11.20L0 16.00L2.40 11.20L0 11.20L0 -16.00"/><path transform="translate(374.8,681.7) rotate(-7)" d="M0 11.20L-2.40 11.20L0 16.00L2.40 11.20L0 11.20L0 -16.00L11.20 -16.00"/><path transform="translate(382.9,681.7) rotate(-24)" d="M0 11.20L-2.40 11.20L0 16.00L2.40 11.20L0 11.20L0 -16.00L11.20 -16.00"/><path transform="translate(391.0,681.7) rotate(-30)" d="M0 11.20L-2.40 11.20L0 16.00L2.40 11.20L0 11.20L0 -16.00L11.20 -16.00"/><path transform="translate(399.1,681.7) rotate(-32)" d="M0 11.20L-2.40 11.20L0 16.00L2.40 11.20L0 11.20L0 -16.00M0 -13.44L6.40 -13.44"/><path transform="translate(407.2,681.7) rotate(-35)" d="M0 11.20L-2.40 11.20L0 16.00L2.40 11.20L0 11.20L0 -16.00M0 -13.44L6.40 -13.44"/><path transform="translate(415.3,681.7) rotate(-55)" d="M0 11.20L-2.40 11.20L0 16.00L2.40 11.20L0 11.20L0 -16.00M0 -13.44L6.40 -13.44"/><path transform="translate(423.4,681.7) rotate(-81)" d="M0 11.20L-2.40 11.20L0 16.00L2.40 11.20L0 11.20L0 -16.00"/><path transform="translate(431.4,681.7) rotate(260)" d="M0 11.20L-2.40 11.20L0 16.00L2.40 11.20L0 11.20L0 -16.00"/><path transform="translate(439.5,681.7) rotate(218)" d="M0 11.20L-2.40 11.20L0 16.00L2.40 11.20L0 11.20L0 -16.00"/><path transform="translate(447.6,681.7) rotate(198)" d="M0 11.20L-2.40 11.20L0 16.00L2.40 11.20L0 11.20L0 -16.00"/><path transform="translate(455.7,681.7) rotate(149)" d="M0 11.20L-2.40 11.20L0 16.00L2.40 11.20L0 11.20L0 -16.00"/><path transform="translate(463.8,681.7) rotate(142)" d="M0 11.20L-2.40 11.20L0 16.00L2.40 11.20L0 11.20L0 -16.00"/><path transform="translate(471.9,681.7) rotate(105)" d="M0 11.20L-2.40 11.20L0 16.00L2.40 11.20L0 11.20L0 -16.00M0 -13.44L6.40 -13.44"/><path transform="translate(480.0,681.7) rotate(100)" d="M0 11.20L-2.40 11.20L0 16.00L2.40 11.20L0 11.20L0 -16.00M0 -13.44L6.40 -13.44"/><path transform="translate(488.1,681.7) rotate(98)" d="M0 11.20L-2.40 11.20L0 16.00L2.40 11.20L0 11.20L0 -16.00M0 -13.44L6.40 -13.44"/><path transform="translate(496.2,681.7) rotate(96)" d="M0 11.20L-2.40 11.20L0 16.00L2.40 11.20L0 11.20L0 -16.00L11.20 -16.00"/><path transform="translate(504.2,681.7) rotate(94)" d="M0 11.20L-2.40 11.20L0 16.00L2.40 11.20L0 11.20L0 -16.00L11.20 -16.00"/><path transform="translate(512.3,681.7) rotate(94)" d="M0 11.20L-2.40 11.20L0 16.00L2.40 11.20L0 11.20L0 -16.00L11.20 -16.00"/><path transform="translate(520.4,681.7) rotate(92)" d="M0 11.20L-2.40 11.20L0 16.00L2.40 11.20L0 11.20L0 -16.00L11.20 -16.00"/><path transform="translate(528.5,681.7) rotate(160)" d="M0 11.20L-2.40 11.20L0 16.00L2.40 11.20L0 11.20L0 -16.00M0 -13.44L6.40 -13.44"/><path transform="translate(536.6,681.7) rotate(173)" d="M0 11.20L-2.40 11.20L0 16.00L2.40 11.20L0 11.20L0 -16.00L11.20 -16.00"/></g>
<text x="83.4" y="734.8" text-anchor="middle" font-size="16" fill="#707070">00</text>
<text x="115.8" y="734.8" text-anchor="middle" font-size="16" fill="#707070">00</text>
<text x="148.2" y="734.8" text-anchor="middle" font-size="16" fill="#707070">00</text>
<text x="180.7" y="734.8" text-anchor="middle" font-size="16" fill="#707070">00</text>
<text x="213.1" y="734.8" text-anchor="middle" font-size="16" fill="#707070">00</text>
<text x="245.5" y="734.8" text-anchor="middle" font-size="16" fill="#707070">00</text>
<text x="277.9" y="734.8" text-anchor="middle" font-size="16" fill="#707070">00</text>
<text x="310.3" y="734.8" text-anchor="middle" font-size="16" fill="#707070">00</text>
<text x="342.8" y="734.8" text-anchor="middle" font-size="16" fill="#707070">00</text>
<text x="375.2" y="734.8" text-anchor="middle" font-size="16" fill="#707070">00</text>
<text x="407.6" y="734.8" text-anchor="middle" font-size="16" fill="#707070">00</text>
<text x="440.0" y="734.8" text-anchor="middle" font-size="16" fill="#707070">00</text>
<text x="472.4" y="734.8" text-anchor="middle" font-size="16" fill="#707070">00</text>
<text x="504.9" y="734.8" text-anchor="middle" font-size="16" fill="#707070">00</text>
<text x="295.2" y="762.2" text-anchor="middle" font-size="18.25" fill="#666">Local time (UTC+1)</text>
<text x="538.5" y="757.5" text-anchor="end" font-size="13.5" fill="#999">wetterzentrale.de</text>
</svg></body></html>
